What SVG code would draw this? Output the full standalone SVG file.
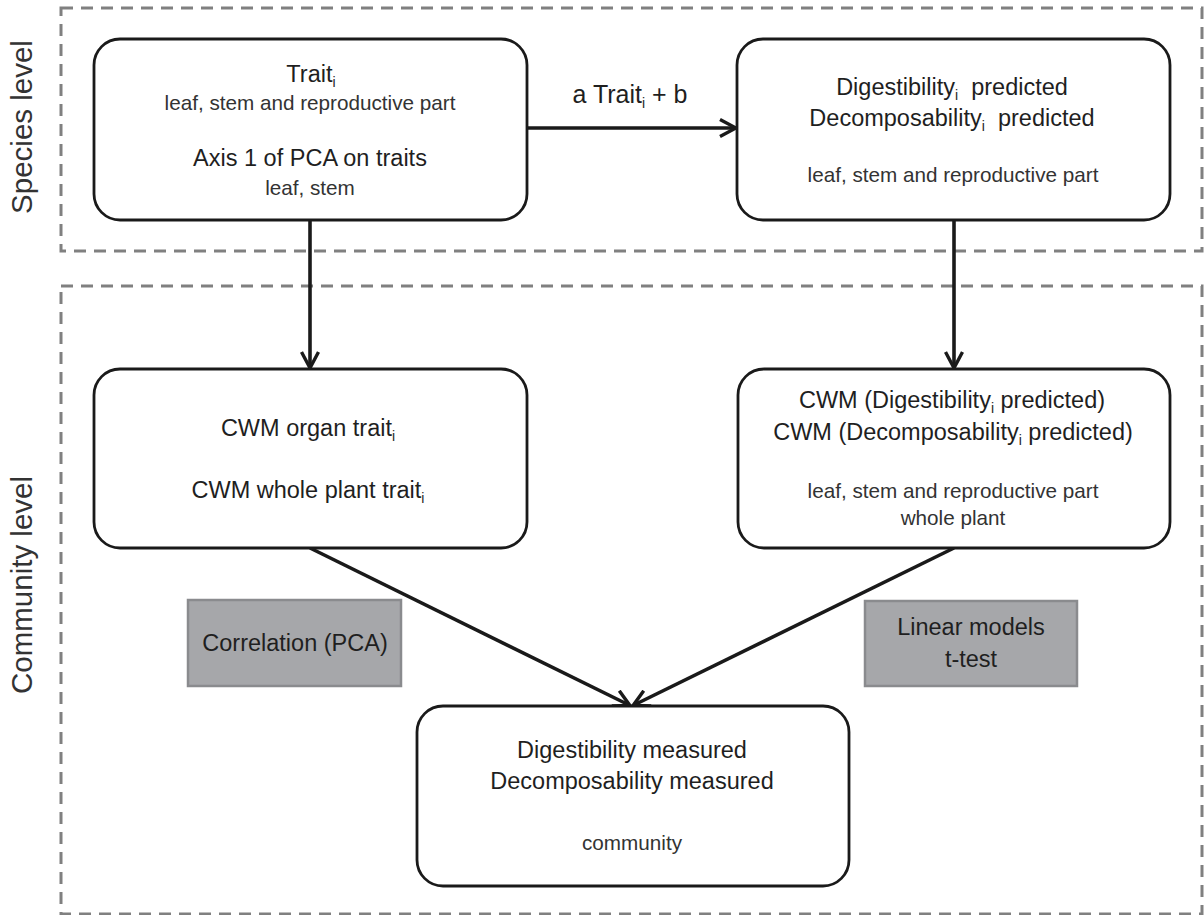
<svg xmlns="http://www.w3.org/2000/svg" width="1204" height="915" viewBox="0 0 1204 915">
<style>
.frame{fill:none;stroke:#808080;stroke-width:3;stroke-dasharray:12 8}
.node{fill:#fff;stroke:#1a1a1a;stroke-width:2.8}
.gray{fill:#a6a7aa;stroke:#8a8b8e;stroke-width:2.5}
.conn{fill:none;stroke:#1a1a1a;stroke-width:3.6}
text{font-family:"Liberation Sans",Arial,sans-serif;text-anchor:middle}
.main{font-size:23.5px;fill:#1f1f1f}
.sub{font-size:20.7px;fill:#333}
.side{font-size:29.5px;fill:#333}
.lab{font-size:25px;fill:#1f1f1f}
.s{font-size:14px}
</style>
<defs>
<marker id="arr" viewBox="0 0 20 20" refX="17" refY="10" markerWidth="20" markerHeight="20" markerUnits="userSpaceOnUse" orient="auto">
<path d="M2,1.5 L18,10 L2,18.5" fill="none" stroke="#1a1a1a" stroke-width="3.4" stroke-linejoin="miter"/>
</marker>
</defs>

<g id="species-level">
<rect class="frame" x="61" y="8" width="1141" height="243"/>
<text class="side" transform="translate(32,127) rotate(-90)">Species level</text>
</g>
<g id="community-level">
<rect class="frame" x="61" y="286" width="1141" height="628"/>
<text class="side" transform="translate(32,585) rotate(-90)">Community level</text>
</g>

<g id="connectors">
<line class="conn" x1="527" y1="128" x2="735" y2="128" marker-end="url(#arr)"/>
<line class="conn" x1="310" y1="220" x2="310" y2="367" marker-end="url(#arr)"/>
<line class="conn" x1="954" y1="220" x2="954" y2="367" marker-end="url(#arr)"/>
<line class="conn" x1="310" y1="548" x2="629" y2="705" marker-end="url(#arr)"/>
<line class="conn" x1="954" y1="548" x2="634" y2="705" marker-end="url(#arr)"/>
<text class="lab" x="630" y="103">a Trait<tspan class="s" dy="5">i</tspan><tspan dy="-5"> + b</tspan></text>
</g>

<g id="node-trait">
<rect class="node" x="94" y="39" width="433" height="181" rx="26"/>
<text class="main" x="311" y="82">Trait<tspan class="s" dy="5">i</tspan></text>
<text class="sub" x="310" y="110">leaf, stem and reproductive part</text>
<text class="main" x="310" y="166">Axis 1 of PCA on traits</text>
<text class="sub" x="310" y="195">leaf, stem</text>
</g>

<g id="node-predicted">
<rect class="node" x="737" y="39" width="433" height="181" rx="26"/>
<text class="main" x="952" y="95">Digestibility<tspan class="s" dy="5">i</tspan><tspan dy="-5">&#160; predicted</tspan></text>
<text class="main" x="952" y="126">Decomposability<tspan class="s" dy="5">i</tspan><tspan dy="-5">&#160; predicted</tspan></text>
<text class="sub" x="953" y="182">leaf, stem and reproductive part</text>
</g>

<g id="node-cwm-trait">
<rect class="node" x="94" y="369" width="433" height="179" rx="26"/>
<text class="main" x="308" y="436">CWM organ trait<tspan class="s" dy="5">i</tspan></text>
<text class="main" x="308" y="498">CWM whole plant trait<tspan class="s" dy="5">i</tspan></text>
</g>

<g id="node-cwm-predicted">
<rect class="node" x="738" y="369" width="432" height="179" rx="26"/>
<text class="main" x="952" y="408">CWM (Digestibility<tspan class="s" dy="5">i</tspan><tspan dy="-5"> predicted)</tspan></text>
<text class="main" x="953" y="440">CWM (Decomposability<tspan class="s" dy="5">i</tspan><tspan dy="-5"> predicted)</tspan></text>
<text class="sub" x="953" y="498">leaf, stem and reproductive part</text>
<text class="sub" x="953" y="525">whole plant</text>
</g>

<g id="node-correlation">
<rect class="gray" x="188" y="600" width="213" height="86"/>
<text class="main" x="295" y="651">Correlation (PCA)</text>
</g>

<g id="node-linear-models">
<rect class="gray" x="865" y="601" width="212" height="85"/>
<text class="main" x="971" y="635">Linear models</text>
<text class="main" x="971" y="667">t-test</text>
</g>

<g id="node-measured">
<rect class="node" x="417" y="706" width="432" height="180" rx="26"/>
<text class="main" x="632" y="758">Digestibility measured</text>
<text class="main" x="632" y="789">Decomposability measured</text>
<text class="sub" x="632" y="850">community</text>
</g>
</svg>
